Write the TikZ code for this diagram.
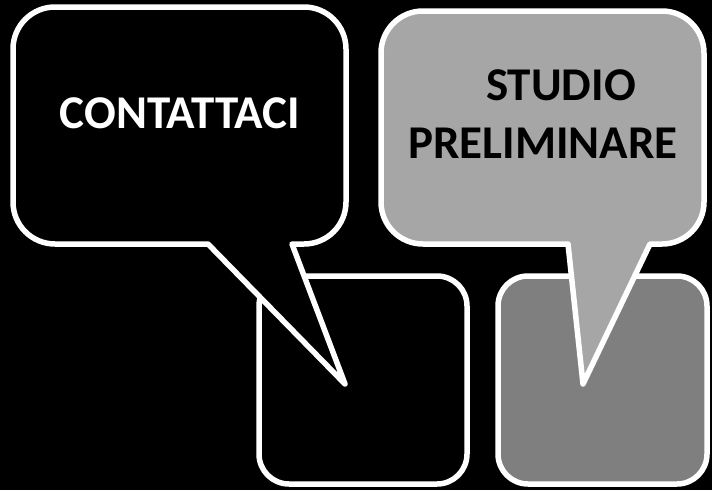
\documentclass[tikz,border=0pt]{standalone}
\usepackage{fontspec}
\setmainfont{Carlito}
\definecolor{lightfill}{HTML}{A6A6A6}
\definecolor{midfill}{HTML}{7F7F7F}
\begin{document}
\begin{tikzpicture}[
		x=1pt, y=-1pt,
		bubble/.style={draw=white, line width=5.5pt, line join=round},
		tile/.style={draw=white, line width=5.5pt, rounded corners=30pt},
		bubbletext/.style={font=\bfseries\fontsize{47}{52}\selectfont, inner sep=0pt}
	]
	\fill[black] (0,0) rectangle (712,490);
	\useasboundingbox (0,0) rectangle (712,490);
	% lower tiles
	\draw[tile, fill=black] (259,276) rectangle (467,484);
	\draw[tile, fill=midfill] (498,276) rectangle (707,484);
	% left callout
	\coordinate (tipA) at (345,384);
	\draw[bubble, fill=black] (13,120) [rounded corners=42pt] -- (13,244)
		[sharp corners] -- (208,244) -- (tipA) -- (292,244)
		[rounded corners=42pt] -- (346,244) -- (346,7) -- (13,7) -- cycle;
	\node[bubbletext, text=white] (contact) at (180,113) {CONTATTACI};
	% right callout
	\coordinate (tipB) at (583,384);
	\draw[bubble, fill=lightfill] (381,120) [rounded corners=42pt] -- (381,244)
		[sharp corners] -- (568,244) -- (tipB) -- (650,244)
		[rounded corners=42pt] -- (704,244) -- (704,11) -- (381,11) -- cycle;
	\node[bubbletext, text=black] (studio) at (561,85) {STUDIO};
	\node[bubbletext, text=black] (prelim) at (543,143) {PRELIMINARE};
\end{tikzpicture}
\end{document}
